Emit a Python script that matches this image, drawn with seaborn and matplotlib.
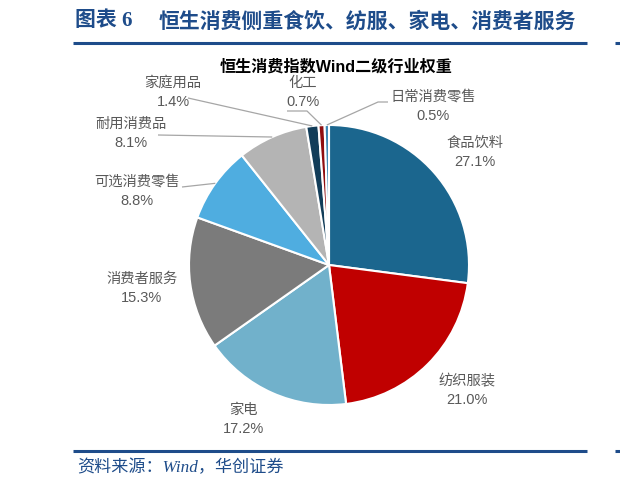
import numpy as np
import matplotlib
matplotlib.use("Agg")
import matplotlib.pyplot as plt
import seaborn as sns

# ---------------- data ----------------
categories = ["食品饮料", "纺织服装", "家电", "消费者服务", "可选消费零售",
              "耐用消费品", "家庭用品", "化工", "日常消费零售"]
weights = [27.1, 21.0, 17.2, 15.3, 8.8, 8.1, 1.4, 0.7, 0.5]
slice_colors = ["#1B668E", "#C00000", "#71B1CB", "#7B7B7B", "#4FADE0",
                "#B4B4B4", "#123D59", "#8F0E10", "#3A85B4"]
header_num = "图表 6"
header_title = "恒生消费侧重食饮、纺服、家电、消费者服务"
chart_title = "恒生消费指数Wind二级行业权重"
source_text = "资料来源：Wind，华创证券"

# ---------------- style ----------------
sns.set_theme(style="white")
plt.rcParams["font.family"] = ["Liberation Sans", "Noto Sans CJK SC", "DejaVu Sans"]

W, H = 620, 488
fig = plt.figure(figsize=(W / 100, H / 100), dpi=100)
ax = fig.add_axes([0, 0, 1, 1])

def Y(py):
    return H - py

cx, cy, R = 329, 265, 140
wedges, _ = ax.pie(weights, colors=slice_colors, startangle=90, counterclock=False,
                   center=(cx, Y(cy)), radius=R,
                   wedgeprops=dict(edgecolor="white", linewidth=1.5))
ax.set_xlim(0, W)
ax.set_ylim(0, H)
ax.set_aspect("auto")
ax.axis("off")

# label layout (pixel positions of name line centre)
label_pos = {
    "食品饮料": (475, 143),
    "纺织服装": (467, 381),
    "家电": (243, 410),
    "消费者服务": (142, 279),
    "可选消费零售": (137, 182),
    "耐用消费品": (131, 124),
    "家庭用品": (173, 83),
    "化工": (303, 83),
    "日常消费零售": (433, 97),
}
# leader line starting points (label side), possibly with an elbow
leaders = {
    "可选消费零售": [(182, 187)],
    "耐用消费品": [(158, 135)],
    "家庭用品": [(188, 98)],
    "化工": [(287, 111), (307, 111)],
    "日常消费零售": [(388, 102), (378, 102)],
}

txt_color = "#595959"
for w, name, val in zip(wedges, categories, weights):
    lx, ly = label_pos[name]
    ax.text(lx, Y(ly), name, ha="center", va="center", fontsize=10.3,
            color=txt_color, family=["Noto Sans CJK SC", "DejaVu Sans"], fontweight="light")
    ax.text(lx, Y(ly + 19), f"{val:.1f}%", ha="center", va="center", fontsize=10.5,
            color=txt_color, family=["Liberation Sans", "DejaVu Sans"])
    if name in leaders:
        mid = np.deg2rad((w.theta1 + w.theta2) / 2)
        ex = cx + R * np.cos(mid)
        ey = Y(cy) + R * np.sin(mid)
        pts = leaders[name]
        xs = [p[0] for p in pts] + [ex]
        ys = [Y(p[1]) for p in pts] + [ey]
        ax.plot(xs, ys, color="#A6A6A6", lw=0.9, solid_capstyle="butt")

# chart title
ax.text(336, Y(67), chart_title, ha="center", va="center", fontsize=11.6,
        fontweight="bold", color="black",
        family=["Liberation Sans", "Noto Sans CJK SC"])

# header
blue = "#1E4C8A"
ax.text(75, Y(21), header_num, ha="left", va="center", fontsize=15,
        fontweight="bold", color=blue, family=["Liberation Serif", "Noto Sans CJK SC"])
ax.text(159, Y(21), header_title, ha="left", va="center", fontsize=15,
        fontweight="bold", color=blue, family=["Noto Sans CJK SC", "DejaVu Sans"])
ax.plot([73, 587], [Y(42.5), Y(42.5)], color=blue, lw=2.2, solid_capstyle="butt")
ax.plot([615, 620], [Y(42.5), Y(42.5)], color=blue, lw=2.2, solid_capstyle="butt")

# footer
ax.plot([73, 587], [Y(451), Y(451)], color=blue, lw=2.2, solid_capstyle="butt")
ax.plot([615, 620], [Y(451), Y(451)], color=blue, lw=2.2, solid_capstyle="butt")
ax.text(77, Y(468), source_text, ha="left", va="center", fontsize=12.3,
        style="italic", color=blue, family=["Liberation Serif", "Noto Sans CJK SC"])

fig.savefig("out.png", dpi=100)
